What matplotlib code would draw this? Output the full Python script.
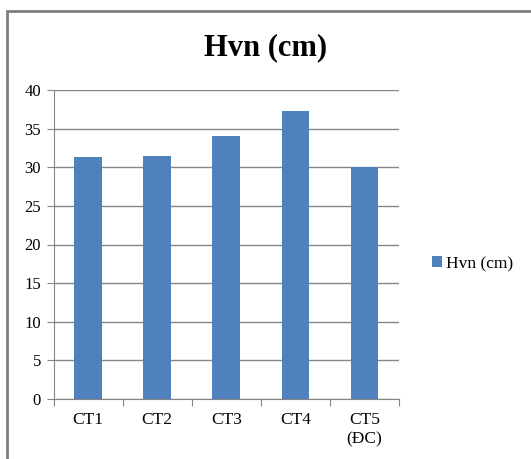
import matplotlib
matplotlib.use("Agg")
import matplotlib.pyplot as plt
from matplotlib.patches import Rectangle

# data
categories = ["CT1", "CT2", "CT3", "CT4", "CT5\n(ĐC)"]
hvn_values = [31.3, 31.5, 34.0, 37.3, 30.0]
series_name = "Hvn (cm)"
y_ticks = [0, 5, 10, 15, 20, 25, 30, 35, 40]

BAR_COLOR = "#4F81BD"
GRID_COLOR = "#868686"

plt.rcParams["font.family"] = ["Liberation Serif", "DejaVu Serif"]

fig = plt.figure(figsize=(5.31, 4.59), dpi=100)
W, H = 531, 459

# outer chart border (right / bottom edges fall outside the picture)
fig.patches.append(Rectangle((7 / W, -0.05), 1.1, 1 - 11 / H + 0.05,
                             transform=fig.transFigure, fill=False,
                             edgecolor="#7f7f7f", linewidth=2))

ax = fig.add_axes([53.5 / W, 1 - 399 / H, (399 - 53.5) / W, (399 - 90) / H])
x = range(len(categories))
ax.bar(x, hvn_values, width=0.4, color=BAR_COLOR, label=series_name, zorder=3)

ax.set_xlim(-0.5, len(categories) - 0.5)
ax.set_ylim(0, 40)
ax.set_yticks(y_ticks)
ax.tick_params(axis="y", labelsize=12, length=5, color=GRID_COLOR, pad=4)
ax.grid(axis="y", color=GRID_COLOR, linewidth=1, zorder=0)

# category labels between boundary ticks
ax.set_xticks([i - 0.5 for i in range(len(categories) + 1)])
ax.set_xticklabels([])
ax.set_xticks(list(x), minor=True)
ax.set_xticklabels(categories, minor=True, fontsize=12.5, linespacing=1.35)
ax.tick_params(axis="x", which="major", length=5, color=GRID_COLOR)
ax.tick_params(axis="x", which="minor", length=0, pad=9)

for side in ["top", "right"]:
    ax.spines[side].set_visible(False)
ax.spines["left"].set_color(GRID_COLOR)
ax.spines["bottom"].set_color(GRID_COLOR)

fig.text(266 / W, 1 - 48 / H, series_name, ha="center", va="center",
         fontsize=22, fontweight="bold")

ax.legend(loc="center left", bbox_to_anchor=(416 / W, 1 - 264 / H),
          bbox_transform=fig.transFigure, frameon=False, fontsize=12.5,
          handlelength=0.6, handleheight=0.6, handletextpad=0.2)

fig.savefig("out.png", dpi=100)
